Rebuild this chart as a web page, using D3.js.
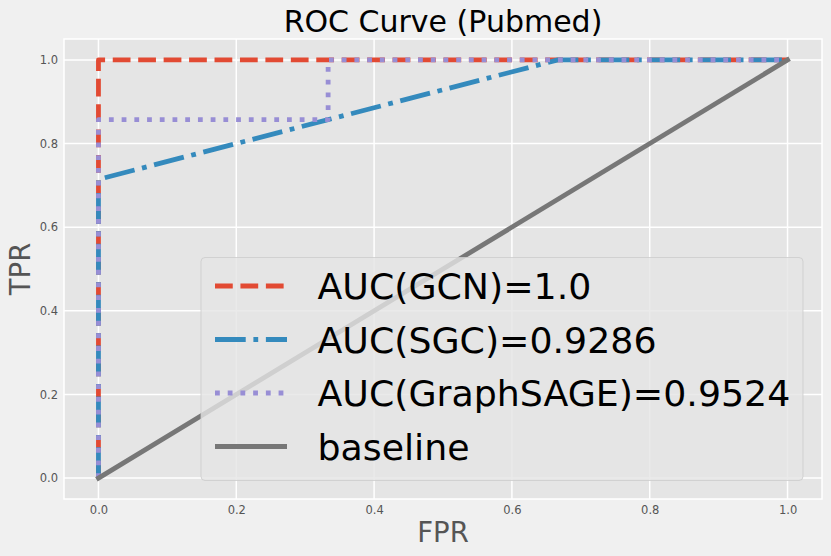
<!DOCTYPE html>
<html>
<head>
<meta charset="utf-8">
<script src="https://cdn.jsdelivr.net/npm/d3@7"></script>
<style>
  body { margin: 0; background: #f0f0f0; }
  text { font-family: "DejaVu Sans", sans-serif; }
</style>
</head>
<body>
<div id="chart"></div>
<script>
// ROC points
var fprGCN = [0, 0, 1];
var tprGCN = [0, 1, 1];
var fprSGC = [0, 0, 0.3333, 0.6667, 1];
var tprSGC = [0, 0.7143, 0.8571, 1, 1];
var fprSAGE = [0, 0, 0.3333, 0.3333, 1];
var tprSAGE = [0, 0.8571, 0.8571, 1, 1];
var fprBase = [0, 1];
var tprBase = [0, 1];

var seriesNames = ["AUC(GCN)=1.0", "AUC(SGC)=0.9286", "AUC(GraphSAGE)=0.9524", "baseline"];
var xTicks = [0, 0.2, 0.4, 0.6, 0.8, 1.0];
var yTicks = [0, 0.2, 0.4, 0.6, 0.8, 1.0];

var W = 831, H = 556;
var m = {left: 64, top: 39, right: 831 - 822, bottom: 556 - 499};
var lw = 4.8;

var styles = [
  {color: "#E24A33", dash: [3.7 * lw, 1.6 * lw], cap: "butt"},
  {color: "#348ABD", dash: [6.4 * lw, 1.6 * lw, 1 * lw, 1.6 * lw], cap: "butt"},
  {color: "#988ED5", dash: [1 * lw, 1.65 * lw], cap: "butt"},
  {color: "#777777", dash: null, cap: "square"}
];
var fprs = [fprGCN, fprSGC, fprSAGE, fprBase];
var tprs = [tprGCN, tprSGC, tprSAGE, tprBase];

var svg = d3.select("#chart").append("svg")
  .attr("width", W)
  .attr("height", H);

svg.append("rect").attr("width", W).attr("height", H).attr("fill", "#f0f0f0");

var x = d3.scaleLinear().domain([-0.05, 1.05]).range([m.left, W - m.right]);
var y = d3.scaleLinear().domain([-0.05, 1.05]).range([H - m.bottom, m.top]);

// axes background
svg.append("rect")
  .attr("x", m.left).attr("y", m.top)
  .attr("width", W - m.left - m.right)
  .attr("height", H - m.top - m.bottom)
  .attr("fill", "#E5E5E5")
  .attr("stroke", "white")
  .attr("stroke-width", 1.5);

// grid
var grid = svg.append("g");
grid.selectAll(".gx").data(xTicks).enter().append("line")
  .attr("x1", d => x(d)).attr("x2", d => x(d))
  .attr("y1", m.top).attr("y2", H - m.bottom)
  .attr("stroke", "white").attr("stroke-width", 1.5);
grid.selectAll(".gy").data(yTicks).enter().append("line")
  .attr("y1", d => y(d)).attr("y2", d => y(d))
  .attr("x1", m.left).attr("x2", W - m.right)
  .attr("stroke", "white").attr("stroke-width", 1.5);

// tick labels via d3 axes
var xAxis = svg.append("g")
  .attr("transform", "translate(0," + (H - m.bottom) + ")")
  .call(d3.axisBottom(x).tickValues(xTicks).tickFormat(d3.format(".1f")).tickSize(0).tickPadding(7));
var yAxis = svg.append("g")
  .attr("transform", "translate(" + m.left + ",0)")
  .call(d3.axisLeft(y).tickValues(yTicks).tickFormat(d3.format(".1f")).tickSize(0).tickPadding(6));
[xAxis, yAxis].forEach(function(a) {
  a.select(".domain").remove();
  a.selectAll("text")
    .attr("fill", "#555555")
    .style("font-size", "11.5px")
    .style("font-family", "DejaVu Sans, sans-serif");
});

// curves
var line = d3.line().x(d => x(d[0])).y(d => y(d[1]));
var curves = svg.append("g");
for (var i = 0; i < fprs.length; i++) {
  var pts = fprs[i].map((f, j) => [f, tprs[i][j]]);
  curves.append("path")
    .attr("d", line(pts))
    .attr("fill", "none")
    .attr("stroke", styles[i].color)
    .attr("stroke-width", lw)
    .attr("stroke-linecap", styles[i].cap)
    .attr("stroke-linejoin", "round")
    .attr("stroke-dasharray", styles[i].dash ? styles[i].dash.join(",") : null);
}

// title and labels
svg.append("text")
  .attr("x", (m.left + W - m.right) / 2).attr("y", 31.5)
  .attr("text-anchor", "middle")
  .style("font-size", "30px")
  .attr("fill", "black")
  .text("ROC Curve (Pubmed)");

svg.append("text")
  .attr("x", (m.left + W - m.right) / 2).attr("y", 541.5)
  .attr("text-anchor", "middle")
  .style("font-size", "27.5px")
  .attr("fill", "#555555")
  .text("FPR");

svg.append("text")
  .attr("transform", "translate(30," + ((m.top + H - m.bottom) / 2) + ") rotate(-90)")
  .attr("text-anchor", "middle")
  .style("font-size", "27.5px")
  .attr("fill", "#555555")
  .text("TPR");

// legend
var leg = svg.append("g");
leg.append("rect")
  .attr("x", 201).attr("y", 257.5)
  .attr("width", 602).attr("height", 223)
  .attr("rx", 4).attr("ry", 4)
  .attr("fill", "#E5E5E5").attr("fill-opacity", 0.8)
  .attr("stroke", "#cccccc").attr("stroke-opacity", 0.8)
  .attr("stroke-width", 1);

var rowY = [286, 339.5, 393, 446.5];
seriesNames.forEach(function(name, i) {
  leg.append("line")
    .attr("x1", 215).attr("x2", 287)
    .attr("y1", rowY[i]).attr("y2", rowY[i])
    .attr("stroke", styles[i].color)
    .attr("stroke-width", lw)
    .attr("stroke-linecap", "butt")
    .attr("stroke-dasharray", styles[i].dash ? styles[i].dash.join(",") : null);
  leg.append("text")
    .attr("x", 317.5).attr("y", rowY[i] + 13)
    .style("font-size", "36.3px")
    .attr("fill", "black")
    .text(name);
});
</script>
</body>
</html>
